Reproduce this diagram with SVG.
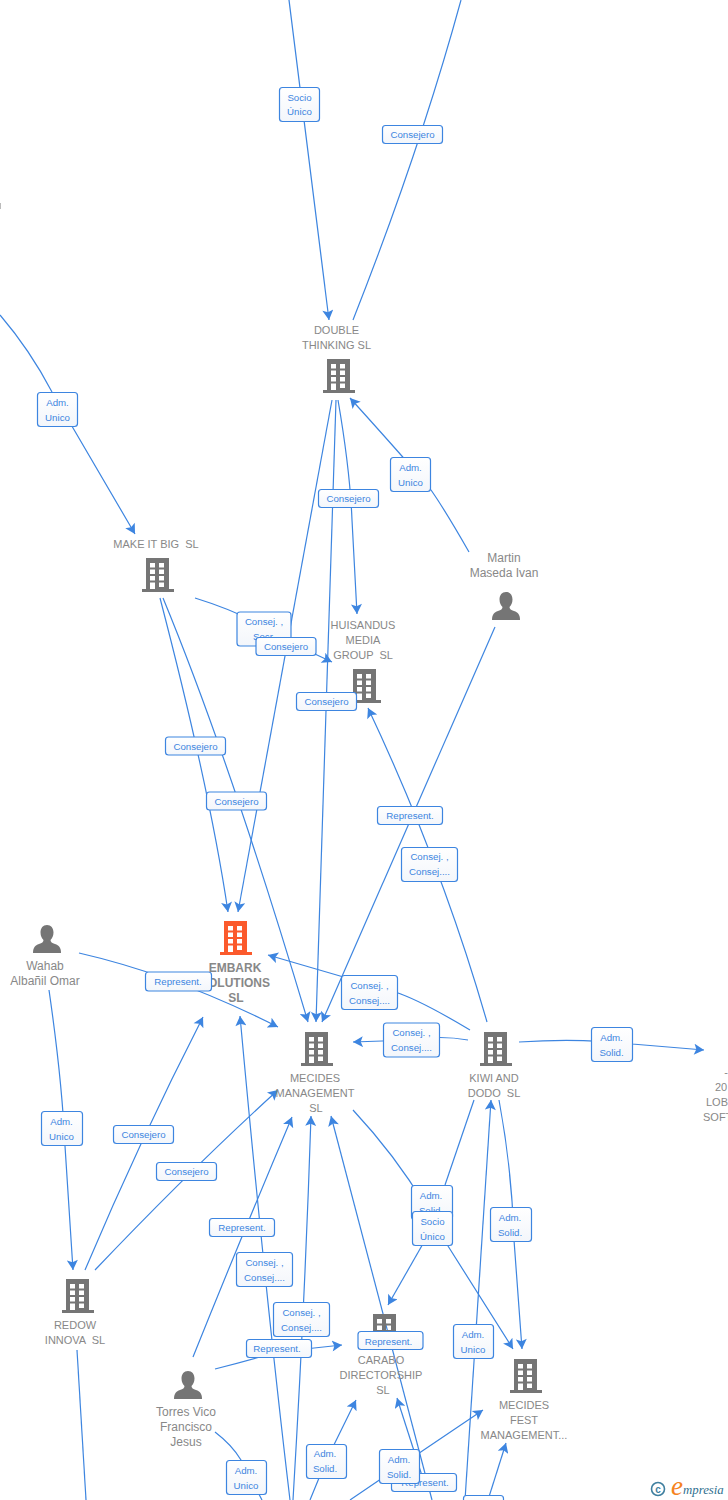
<svg xmlns="http://www.w3.org/2000/svg" width="728" height="1500" viewBox="0 0 728 1500">
<style>
svg{background:#fff}
.n{font-family:"Liberation Sans",Arial,sans-serif;font-size:11px;fill:#888;text-anchor:middle;white-space:pre}
.h{font-family:"Liberation Sans",Arial,sans-serif;font-size:12px;fill:#888;text-anchor:middle}
.b{font-family:"Liberation Sans",Arial,sans-serif;font-size:12px;font-weight:bold;fill:#888;text-anchor:middle}
.e{fill:none;stroke:#3d85e0;stroke-width:1.2;marker-end:url(#a)}
.p{fill:none;stroke:#3d85e0;stroke-width:1.2}
.lb rect{fill:url(#g);stroke:#3d85e0;stroke-width:1.2}
.lb text{font-family:"Liberation Sans",Arial,sans-serif;font-size:9.7px;fill:#3d85e0;text-anchor:middle}
.ic{fill:#757575}
.or{fill:#fb5a2c}
</style>
<defs>
<marker id="a" markerUnits="userSpaceOnUse" markerWidth="11" markerHeight="11" viewBox="0 0 10 10" refX="10" refY="5" orient="auto"><path d="M10 5L1 0L3 5L1 10Z" fill="#3d85e0"/></marker>
<linearGradient id="g" x1="0" y1="0" x2="0" y2="1"><stop offset="0" stop-color="#fff"/><stop offset="1" stop-color="#f3f6fb"/></linearGradient>
<symbol id="bld" viewBox="0 0 32 34" width="32" height="34" overflow="visible">
<path fill-rule="evenodd" d="M4 0H27V31H32V34H0V31H4ZM8 5V9.500H13V5ZM17 5V9.500H22V5ZM8 11.500V16H13V11.500ZM17 11.500V16H22V11.500ZM8 18V22.500H13V18ZM17 18V22.500H22V18ZM8 24.500V31H13V24.500ZM17 24.500V29H22V24.500Z"/>
</symbol>
<symbol id="per" viewBox="0 0 28 28" width="28" height="28">
<path d="M14 0C18 0 20.500 3 20.500 7.500C20.500 11 19 13.500 17.500 15C17.500 17 19 18 22 19C26 20.500 28 22.500 28 28H0C0 22.500 2 20.500 6 19C9 18 10.500 17 10.500 15C9 13.500 7.500 11 7.500 7.500C7.500 3 10 0 14 0Z"/>
</symbol>
</defs>
<g id="connectors">
<path class="e" d="M289 0Q306 135 329 320"/>
<path class="p" d="M461 0Q420 150 353 320"/>
<path class="e" d="M0 315Q30 350 52 392L135 534"/>
<path class="e" d="M469 552Q445 510 431 490Q415 470 350 398"/>
<path class="e" d="M338 400Q350 470 352 520L357 614"/>
<path class="e" d="M336 400L316 1022"/>
<path class="e" d="M332 400L238 912"/>
<path class="e" d="M195 598Q250 615 285 640L332 662"/>
<path class="e" d="M160 598Q210 790 228 912"/>
<path class="e" d="M163 598Q230 760 308 1022"/>
<path class="e" d="M495 627L322 1022"/>
<path class="e" d="M487 1022Q442 865 368 708"/>
<path class="e" d="M470 1030Q420 1000 395 992L268 955"/>
<path class="e" d="M468 1040Q440 1035 411 1040L353 1042"/>
<path class="e" d="M519 1042Q580 1038 632 1044L704 1050"/>
<path class="e" d="M79 953Q175 975 278 1027"/>
<path class="e" d="M49 990Q62 1080 65 1146L73 1270"/>
<path class="e" d="M85 1270Q140 1140 203 1017"/>
<path class="e" d="M95 1270Q190 1170 278 1090"/>
<path class="p" d="M77 1350L86 1500"/>
<path class="e" d="M193 1357Q240 1240 292 1117"/>
<path class="e" d="M290 1500Q265 1290 240 1016"/>
<path class="e" d="M293 1500Q305 1300 311 1116"/>
<path class="e" d="M432 1500Q385 1320 331 1116"/>
<path class="e" d="M215 1369Q250 1360 277 1352L342 1345"/>
<path class="p" d="M215 1432Q232 1445 241 1460L262 1500"/>
<path class="e" d="M310 1500L326 1461L356 1400"/>
<path class="p" d="M353 1110Q395 1155 425 1205"/>
<path class="e" d="M425 1205L448 1246L513 1349"/>
<path class="p" d="M474 1100L445 1185"/>
<path class="e" d="M432 1228L388 1305"/>
<path class="e" d="M499 1100Q512 1170 514 1240L522 1349"/>
<path class="e" d="M465 1500L491 1100"/>
<path class="e" d="M350 1500L400 1466L483 1410"/>
<path class="e" d="M424 1482L397 1398"/>
<path class="e" d="M488 1500L506 1443"/>
</g>
<rect x="0" y="203" width="1" height="6" fill="#bbb"/>
<g id="n-double"><text class="n" x="336.500" y="334">DOUBLE</text><text class="n" x="336.500" y="349">THINKING SL</text><use href="#bld" class="ic" x="323" y="359"/></g>
<g id="n-makeitbig"><text class="n" x="156" y="548">MAKE IT BIG  SL</text><use href="#bld" class="ic" x="142" y="558"/></g>
<g id="n-huisandus"><text class="n" x="363" y="629">HUISANDUS</text><text class="n" x="363" y="644">MEDIA</text><text class="n" x="363" y="659">GROUP  SL</text><use href="#bld" class="ic" x="349" y="669"/></g>
<g id="n-martin"><text class="h" x="504" y="562">Martin</text><text class="h" x="504" y="577">Maseda Ivan</text><use href="#per" class="ic" x="492" y="592"/></g>
<g id="n-embark"><use href="#bld" class="or" x="220" y="921"/><text class="b" x="235" y="972">EMBARK</text><text class="b" x="235" y="987">SOLUTIONS</text><text class="b" x="236" y="1002">SL</text></g>
<g id="n-wahab"><use href="#per" class="ic" x="33" y="925"/><text class="h" x="45" y="970">Wahab</text><text class="h" x="45" y="985">Albañil Omar</text></g>
<g id="n-mecides"><use href="#bld" class="ic" x="301" y="1032"/><text class="n" x="315" y="1082">MECIDES</text><text class="n" x="315" y="1097">MANAGEMENT</text><text class="n" x="316" y="1112">SL</text></g>
<g id="n-kiwi"><use href="#bld" class="ic" x="480" y="1032"/><text class="n" x="494" y="1082">KIWI AND</text><text class="n" x="494" y="1097">DODO  SL</text></g>
<g id="n-lob"><text class="n" x="726" y="1076">-</text><text class="n" style="text-anchor:start" x="715" y="1091">20</text><text class="n" style="text-anchor:start" x="706" y="1106">LOB</text><text class="n" style="text-anchor:start" x="703" y="1121">SOFT</text></g>
<g id="n-redow"><use href="#bld" class="ic" x="62" y="1279"/><text class="n" x="75" y="1329">REDOW</text><text class="n" x="75" y="1344">INNOVA  SL</text></g>
<g id="n-torres"><use href="#per" class="ic" x="174" y="1371"/><text class="h" x="186" y="1416">Torres Vico</text><text class="h" x="186" y="1431">Francisco</text><text class="h" x="186" y="1446">Jesus</text></g>
<g id="n-carabo"><use href="#bld" class="ic" x="369" y="1314"/><text class="n" x="381" y="1364">CARABO</text><text class="n" x="381" y="1379">DIRECTORSHIP</text><text class="n" x="383" y="1394">SL</text></g>
<g id="n-fest"><use href="#bld" class="ic" x="510" y="1359"/><text class="n" x="524" y="1409">MECIDES</text><text class="n" x="524" y="1424">FEST</text><text class="n" x="524" y="1439">MANAGEMENT...</text></g>
<g id="labels" class="lb">
<rect x="279.500" y="87.500" width="40" height="34" rx="3"/><text x="299.500" y="100.500">Socio</text><text x="299.500" y="115">Único</text>
<rect x="382.500" y="125.500" width="60" height="18" rx="3"/><text x="412.500" y="138">Consejero</text>
<rect x="37.500" y="392.500" width="40" height="34" rx="3"/><text x="57.500" y="406">Adm.</text><text x="57.500" y="421">Unico</text>
<rect x="390.500" y="457.500" width="40" height="34" rx="3"/><text x="410.500" y="471">Adm.</text><text x="410.500" y="486">Unico</text>
<rect x="318.500" y="489.500" width="60" height="18" rx="3"/><text x="348.500" y="502">Consejero</text>
<rect x="237" y="612" width="54" height="34" rx="3"/><text x="264" y="625">Consej. ,</text><text x="264" y="640">Secr.</text>
<rect x="256" y="637.500" width="60" height="18" rx="3"/><text x="286" y="650">Consejero</text>
<rect x="296.500" y="692.500" width="60" height="18" rx="3"/><text x="326.500" y="705">Consejero</text>
<rect x="165.500" y="737" width="60" height="18" rx="3"/><text x="195.500" y="750">Consejero</text>
<rect x="206.500" y="792" width="60" height="18" rx="3"/><text x="236.500" y="805">Consejero</text>
<rect x="377.500" y="806.500" width="65" height="18" rx="3"/><text x="410" y="819">Represent.</text>
<rect x="401.500" y="847.500" width="56" height="34" rx="3"/><text x="429.500" y="860">Consej. ,</text><text x="429.500" y="875">Consej....</text>
<rect x="145.500" y="972" width="66" height="19" rx="3"/><text x="178" y="985">Represent.</text>
<rect x="341.500" y="975.500" width="56" height="34" rx="3"/><text x="369.500" y="989">Consej. ,</text><text x="369.500" y="1004">Consej....</text>
<rect x="383.500" y="1023" width="56" height="34" rx="3"/><text x="411.500" y="1036">Consej. ,</text><text x="411.500" y="1051">Consej....</text>
<rect x="591.500" y="1027.500" width="41" height="34" rx="3"/><text x="611.500" y="1041">Adm.</text><text x="611.500" y="1056">Solid.</text>
<rect x="41.500" y="1111.500" width="41" height="34" rx="3"/><text x="61.500" y="1125">Adm.</text><text x="61.500" y="1140">Unico</text>
<rect x="113.500" y="1125.500" width="60" height="18" rx="3"/><text x="143.500" y="1138">Consejero</text>
<rect x="156.500" y="1162.500" width="60" height="18" rx="3"/><text x="186.500" y="1175">Consejero</text>
<rect x="411.500" y="1185.500" width="41" height="34" rx="3"/><text x="431" y="1199">Adm.</text><text x="431" y="1214">Solid.</text>
<rect x="412.500" y="1211.500" width="40" height="34" rx="3"/><text x="432.500" y="1225">Socio</text><text x="432.500" y="1240">Único</text>
<rect x="490.500" y="1207.500" width="41" height="34" rx="3"/><text x="510" y="1221">Adm.</text><text x="510" y="1236">Solid.</text>
<rect x="209.500" y="1218.500" width="65" height="18" rx="3"/><text x="242" y="1231">Represent.</text>
<rect x="236.500" y="1252.500" width="56" height="34" rx="3"/><text x="264.500" y="1266">Consej. ,</text><text x="264.500" y="1281">Consej....</text>
<rect x="273.500" y="1302.500" width="56" height="34" rx="3"/><text x="301.500" y="1316">Consej. ,</text><text x="301.500" y="1331">Consej....</text>
<rect x="246.500" y="1339.500" width="65" height="18" rx="3"/><text x="277" y="1352">Represent.</text>
<rect x="358" y="1331.500" width="65" height="18" rx="3"/><text x="388.500" y="1345">Represent.</text>
<rect x="453.500" y="1324.500" width="40" height="34" rx="3"/><text x="473" y="1338">Adm.</text><text x="473" y="1353">Unico</text>
<rect x="306.500" y="1444.500" width="40" height="34" rx="3"/><text x="325" y="1457">Adm.</text><text x="325" y="1472">Solid.</text>
<rect x="226.500" y="1460.500" width="40" height="34" rx="3"/><text x="246" y="1474">Adm.</text><text x="246" y="1489">Unico</text>
<rect x="391.500" y="1473.500" width="65" height="18" rx="3"/><text x="425" y="1486">Represent.</text>
<rect x="379.500" y="1449.500" width="40" height="34" rx="3"/><text x="399" y="1463">Adm.</text><text x="399" y="1478">Solid.</text>
<rect x="463.500" y="1495.500" width="40" height="20" rx="3"/>
</g>
<g id="logo">
<circle cx="658" cy="1489" r="6.500" fill="none" stroke="#3f7f9f" stroke-width="1.600"/>
<text x="658" y="1492.500" font-family="'Liberation Sans',sans-serif" font-size="10" font-weight="bold" fill="#3f7f9f" text-anchor="middle">c</text>
<text x="671" y="1495" font-family="'Liberation Serif',serif" font-size="27" font-style="italic" fill="#f58220">e</text>
<text x="683" y="1494" font-family="'Liberation Serif',serif" font-size="12.800" font-style="italic" fill="#2f6f8f">mpresia</text>
</g>
</svg>
